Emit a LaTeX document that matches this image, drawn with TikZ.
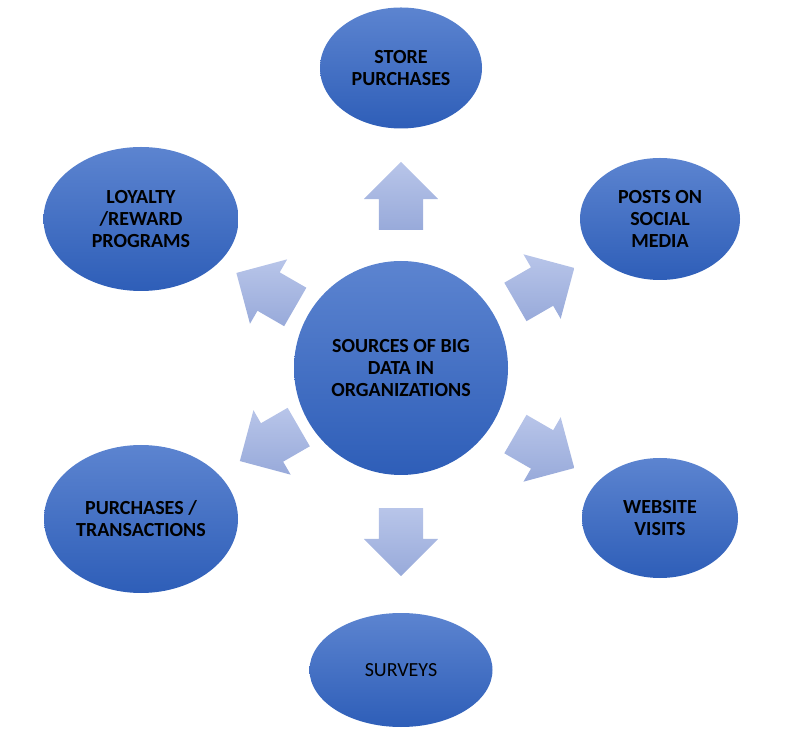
\documentclass[tikz,border=0pt]{standalone}
\usepackage{fontspec}
\setmainfont{Carlito}
\usetikzlibrary{shapes.geometric, shapes.arrows, calc}
\definecolor{cTop}{RGB}{92,132,208}
\definecolor{cBot}{RGB}{46,94,184}
\definecolor{aLight}{RGB}{184,197,233}
\definecolor{aDark}{RGB}{152,170,218}

\tikzset{
  source/.style={ellipse, top color=cTop, bottom color=cBot, inner sep=0pt,
    align=center, font=\bfseries\fontsize{20}{22}\selectfont},
  bigarrow/.style={single arrow, top color=aLight, bottom color=aDark,
    minimum height=68pt, minimum width=74pt, single arrow head extend=15pt,
    inner xsep=0pt, inner ysep=22pt},
}

\begin{document}
\begin{tikzpicture}[x=1pt, y=1pt]
    \useasboundingbox (0,0) rectangle (786,736);

    % --- Hub ---
    \node[source, circle, minimum size=214pt] (hub) at (401,368)
        {SOURCES OF BIG\\DATA IN\\ORGANIZATIONS};

    % --- Sources ---
    \node[source, minimum width=162pt, minimum height=121pt] (store) at (401,668)
        {STORE\\PURCHASES};
    \node[source, minimum width=160pt, minimum height=122pt] (posts) at (660,517)
        {POSTS ON\\SOCIAL\\MEDIA};
    \node[source, minimum width=156pt, minimum height=120pt] (website) at (660,218)
        {WEBSITE\\VISITS};
    \node[source, minimum width=183pt, minimum height=114pt,
        font=\fontsize{20}{22}\selectfont] (surveys) at (401,66) {SURVEYS};
    \node[source, minimum width=194pt, minimum height=148pt] (transactions) at (141,217)
        {PURCHASES /\\TRANSACTIONS};
    \node[source, minimum width=195pt, minimum height=144pt] (loyalty) at (141,517)
        {LOYALTY\\/REWARD\\PROGRAMS};

    % --- Arrows ---
    \node[bigarrow, rotate=90] (toStore) at ($(hub)+(90:161)$) {};
    \node[bigarrow, rotate=30] (toPosts) at ($(hub)+(30:155)$) {};
    \node[bigarrow, rotate=-30] (toWebsite) at ($(hub)+(-30:155)$) {};
    \node[bigarrow, rotate=-90] (toSurveys) at ($(hub)+(-90:163)$) {};
    \node[bigarrow, rotate=210] (toTransactions) at ($(hub)+(210:141)$) {};
    \node[bigarrow, rotate=150] (toLoyalty) at ($(hub)+(150:145)$) {};

\end{tikzpicture}
\end{document}
